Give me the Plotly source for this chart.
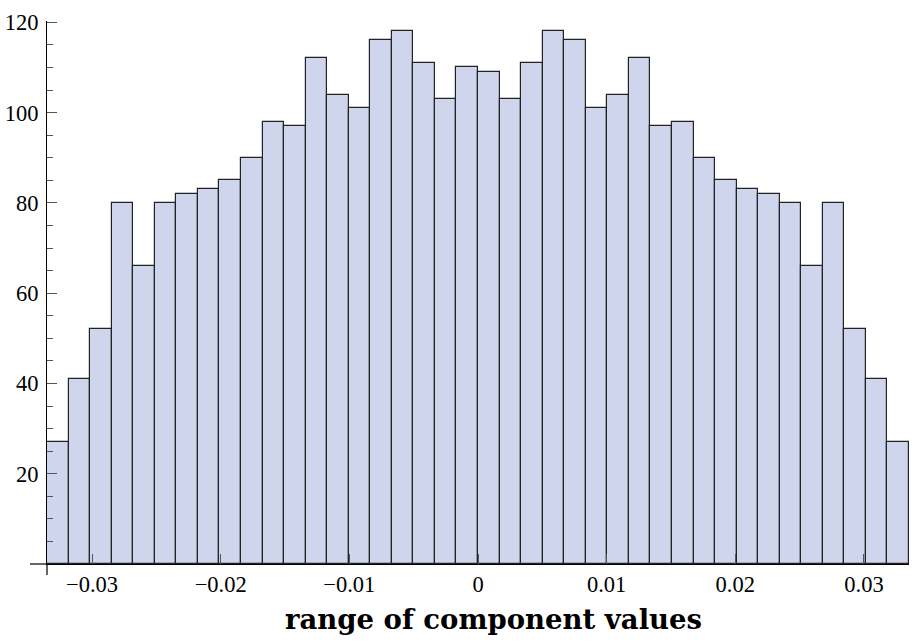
import plotly.graph_objects as go

counts = [27, 41, 52, 80, 66, 80, 82, 83, 85, 90, 98, 97, 112, 104, 101, 116, 118, 111, 103, 110,
          109, 103, 111, 118, 116, 101, 104, 112, 97, 98, 90, 85, 83, 82, 80, 66, 80, 52, 41, 27]
bin_start = -0.0335
bin_width = 0.001675
x_tick_vals = [-0.03, -0.02, -0.01, 0, 0.01, 0.02, 0.03]
x_tick_text = ["\u22120.03", "\u22120.02", "\u22120.01", "0", "0.01", "0.02", "0.03"]
y_tick_vals = [20, 40, 60, 80, 100, 120]
x_title = "range of component values"

centers = [bin_start + bin_width * (i + 0.5) for i in range(len(counts))]
x_end = bin_start + bin_width * len(counts)

SERIF = "'Liberation Serif', 'Times New Roman', Times, serif"

fig = go.Figure()
fig.add_trace(go.Bar(
    x=centers, y=counts, width=bin_width,
    marker=dict(color="rgb(208,213,238)", line=dict(color="#222222", width=1.2)),
    hoverinfo="skip",
))

W, H = 916, 642
ml, mr, mt, mb = 47, 7, 21, 77.5
pw = W - ml - mr
ph = H - mt - mb

fig.update_layout(
    width=W, height=H,
    margin=dict(l=ml, r=mr, t=mt, b=mb, pad=0, autoexpand=False),
    plot_bgcolor="white", paper_bgcolor="white",
    bargap=0, showlegend=False,
    font=dict(family=SERIF, size=22, color="black"),
    xaxis=dict(
        range=[bin_start, x_end], showgrid=False, zeroline=False, automargin=False,
        showline=True, linecolor="black", linewidth=1.2,
        tickvals=x_tick_vals, ticktext=x_tick_text,
        ticks="inside", ticklen=10, tickcolor="#555555", tickwidth=1.2,
        tickfont=dict(family=SERIF, size=22.5, color="black"),
    ),
    yaxis=dict(
        range=[0, 120.3], showgrid=False, zeroline=False, automargin=False,
        showline=True, linecolor="black", linewidth=1.2,
        tickvals=y_tick_vals,
        ticks="inside", ticklen=10, tickcolor="#555555", tickwidth=1.2,
        ticklabelstandoff=3,
        minor=dict(dtick=5, tick0=0, ticks="inside", ticklen=6, tickcolor="#555555", tickwidth=1.2),
        tickfont=dict(family=SERIF, size=22.5, color="black"),
    ),
    shapes=[
        dict(type="line", xref="paper", yref="paper", x0=-17 / pw, x1=0, y0=0, y1=0,
             line=dict(color="black", width=1.2)),
        dict(type="line", xref="paper", yref="paper", x0=0, x1=0, y0=-11 / ph, y1=0,
             line=dict(color="black", width=1.2)),
    ],
    annotations=[
        dict(text="<b>" + x_title + "</b>", xref="paper", yref="paper",
             x=(493 - ml) / pw, y=-(620 - (H - mb)) / ph, xanchor="center", yanchor="middle",
             showarrow=False, font=dict(family="'DejaVu Serif', serif", size=27.5, color="black")),
    ],
)

fig.write_html("out.html")
